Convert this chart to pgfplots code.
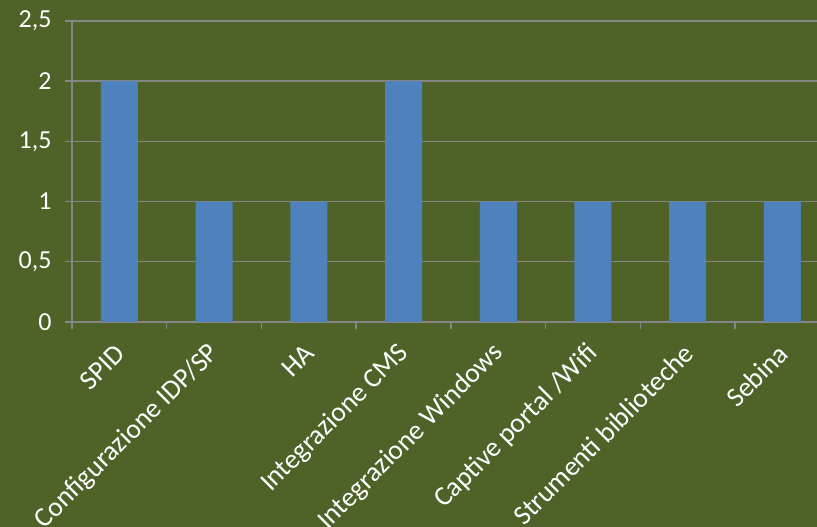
\documentclass[border=0pt]{standalone}
\usepackage{pgfplots}
\pgfplotsset{compat=1.18}
\usepackage{fontspec}
\setmainfont{Carlito}
\definecolor{bgolive}{HTML}{4F6228}
\definecolor{barblue}{HTML}{4F81BD}
\definecolor{gridgray}{HTML}{868686}
\begin{document}
\begin{tikzpicture}
\fill[bgolive] (0,0) rectangle (817bp,527bp);
\begin{axis}[
  at={(72bp,205bp)}, anchor=south west,
  scale only axis, width=757.8bp, height=301bp,
  xmin=-0.5, xmax=7.5, ymin=0, ymax=2.5,
  axis lines=left,
  axis line style={-, draw=gridgray, line width=1.4bp},
  ymajorgrids, grid style={draw=gridgray, line width=1.4bp},
  ytick={0,0.5,...,2.5},
  xtick={-0.5,0.5,...,7.5}, xticklabels={},
  tick align=outside, major tick length=7bp,
  tick style={draw=gridgray, line width=1.4bp},
  /pgf/number format/assume math mode=true,
  /pgf/number format/use comma,
  yticklabel style={font=\fontsize{26bp}{30bp}\selectfont, text=white, xshift=-10bp},
  extra x ticks={0,1,2,3,4,5,6,7},
  extra x tick labels={SPID,Configurazione IDP/SP,HA,Integrazione CMS,Integrazione Windows,Captive portal /Wifi,Strumenti biblioteche,Sebina},
  extra x tick style={major tick length=0pt, tick label style={font=\fontsize{27.5bp}{30bp}\selectfont, text=white, inner sep=0pt, xshift=1bp, yshift=-27bp, rotate=45, anchor=east}},
  ybar, bar width=37bp,
]
\addplot[fill=barblue, draw=none] coordinates {(0,2) (1,1) (2,1) (3,2) (4,1) (5,1) (6,1) (7,1)};
\end{axis}
\pgfresetboundingbox
\useasboundingbox (0,0) rectangle (817bp,527bp);
\end{tikzpicture}
\end{document}
